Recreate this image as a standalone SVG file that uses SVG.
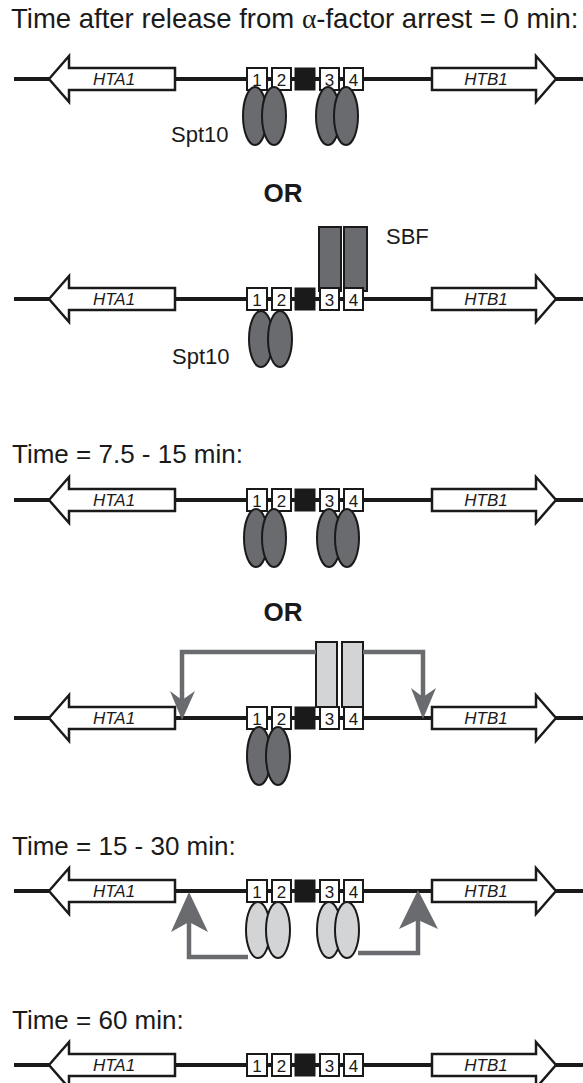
<svg xmlns="http://www.w3.org/2000/svg" width="583" height="1083" viewBox="0 0 583 1083">
  <style>
    .dna { stroke: #1a1a1a; stroke-width: 4; fill: none; }
    .gene { fill: #ffffff; stroke: #1a1a1a; stroke-width: 2.5; stroke-linejoin: miter; }
    .gname { font-family: "Liberation Sans", Arial, sans-serif; font-style: italic; font-size: 17px; fill: #1a1a1a; text-anchor: middle; }
    .site { fill: #ffffff; stroke: #1a1a1a; stroke-width: 2; }
    .core { fill: #1a1a1a; stroke: #1a1a1a; stroke-width: 1; }
    .num { font-family: "Liberation Sans", Arial, sans-serif; font-size: 17px; fill: #1a1a1a; text-anchor: middle; }
    .dark { fill: #6a6b6e; stroke: #1a1a1a; stroke-width: 2; }
    .light { fill: #d3d4d6; stroke: #1a1a1a; stroke-width: 2; }
    .label { font-family: "Liberation Sans", Arial, sans-serif; font-size: 22px; fill: #1a1a1a; }
    .title { font-family: "Liberation Sans", Arial, sans-serif; font-size: 26px; fill: #1a1a1a; }
    .title.top { font-size: 27.5px; }
    .or { font-family: "Liberation Sans", Arial, sans-serif; font-size: 26px; font-weight: bold; fill: #1a1a1a; text-anchor: middle; }
    .flow { fill: none; stroke: #6a6b6e; stroke-width: 4.5; stroke-linejoin: miter; }
    .head { fill: #6a6b6e; stroke: none; }
  </style>
  <defs>
    <!-- shared promoter locus: DNA line, HTA1 / HTB1 genes and sites 1-4 around the core -->
    <g id="locus">
      <line class="dna" x1="14" y1="0" x2="583" y2="0"/>
      <polygon class="gene" points="49,0 69,-23 69,-11 175,-11 175,11 69,11 69,23"/>
      <text class="gname" x="114" y="6">HTA1</text>
      <polygon class="gene" points="432,-11 536,-11 536,-23 556,0 536,23 536,11 432,11"/>
      <text class="gname" x="486" y="6">HTB1</text>
      <rect class="site" x="247" y="-11" width="20" height="22"/>
      <text class="num" x="257" y="7">1</text>
      <rect class="site" x="272" y="-11" width="19" height="22"/>
      <text class="num" x="281.5" y="7">2</text>
      <rect class="core" x="295" y="-11" width="20" height="22"/>
      <rect class="site" x="320" y="-11" width="19" height="22"/>
      <text class="num" x="329.5" y="7">3</text>
      <rect class="site" x="344" y="-11" width="19" height="22"/>
      <text class="num" x="353.5" y="7">4</text>
    </g>
  </defs>

  <!-- headings -->
  <g id="headings">
    <text class="title top" x="11" y="28">Time after release from <tspan font-family="'Liberation Serif', serif">α</tspan>-factor arrest = 0 min:</text>
    <text class="or" x="283" y="202">OR</text>
    <text class="title" x="12" y="463">Time = 7.5 - 15 min:</text>
    <text class="or" x="283" y="621">OR</text>
    <text class="title" x="12" y="855">Time = 15 - 30 min:</text>
    <text class="title" x="12" y="1029">Time = 60 min:</text>
  </g>

  <!-- 0 min, Spt10 on both halves -->
  <g id="panel-0a" transform="translate(0,79)">
    <use href="#locus"/>
    <ellipse class="dark" cx="255" cy="37" rx="12" ry="29"/>
    <ellipse class="dark" cx="274" cy="37" rx="12" ry="29"/>
    <ellipse class="dark" cx="328" cy="37" rx="12" ry="29"/>
    <ellipse class="dark" cx="346" cy="37" rx="12" ry="29"/>
    <text class="label" x="171" y="63">Spt10</text>
  </g>

  <!-- 0 min, SBF on sites 3-4 -->
  <g id="panel-0b" transform="translate(0,299)">
    <rect class="dark" x="319" y="-72" width="22" height="64"/>
    <rect class="dark" x="344" y="-72" width="23" height="64"/>
    <use href="#locus"/>
    <text class="label" x="386" y="-55">SBF</text>
    <ellipse class="dark" cx="261" cy="40" rx="12" ry="28"/>
    <ellipse class="dark" cx="280" cy="40" rx="12" ry="28"/>
    <text class="label" x="172" y="65">Spt10</text>
  </g>

  <!-- 7.5 - 15 min, Spt10 bound -->
  <g id="panel-1a" transform="translate(0,500)">
    <use href="#locus"/>
    <ellipse class="dark" cx="256" cy="38" rx="12" ry="29"/>
    <ellipse class="dark" cx="274" cy="38" rx="12" ry="29"/>
    <ellipse class="dark" cx="329" cy="38" rx="12" ry="29"/>
    <ellipse class="dark" cx="347" cy="38" rx="12" ry="29"/>
  </g>

  <!-- 7.5 - 15 min, SBF activating both genes -->
  <g id="panel-1b" transform="translate(0,718)">
    <use href="#locus"/>
    <rect class="light" x="316" y="-76" width="21" height="65"/>
    <rect class="light" x="342" y="-76" width="21" height="65"/>
    <ellipse class="dark" cx="259" cy="38" rx="12" ry="29"/>
    <ellipse class="dark" cx="278" cy="38" rx="12" ry="29"/>
  </g>

  <!-- 15 - 30 min, light Spt10 activating -->
  <g id="panel-2" transform="translate(0,891)">
    <use href="#locus"/>
    <ellipse class="light" cx="258" cy="39" rx="12" ry="28"/>
    <ellipse class="light" cx="278" cy="39" rx="12" ry="28"/>
    <ellipse class="light" cx="329" cy="39" rx="12" ry="28"/>
    <ellipse class="light" cx="347" cy="39" rx="12" ry="28"/>
  </g>

  <!-- 60 min, bare locus -->
  <g id="panel-3" transform="translate(0,1065)">
    <use href="#locus"/>
  </g>

  <!-- activation arrows -->
  <g id="connectors">
    <path class="flow" d="M316,652 H182 V700"/>
    <polygon class="head" points="170,691 182,700 195,691 182,720"/>
    <path class="flow" d="M363,652 H423 V697"/>
    <polygon class="head" points="411,688 423,697 436,688 423,719"/>
    <path class="flow" d="M248,957 H189 V922"/>
    <polygon class="head" points="171,932 189,922 208,932 189,892"/>
    <path class="flow" d="M358,953 H418 V920"/>
    <polygon class="head" points="399,929 418,920 438,929 418,890"/>
  </g>
</svg>
